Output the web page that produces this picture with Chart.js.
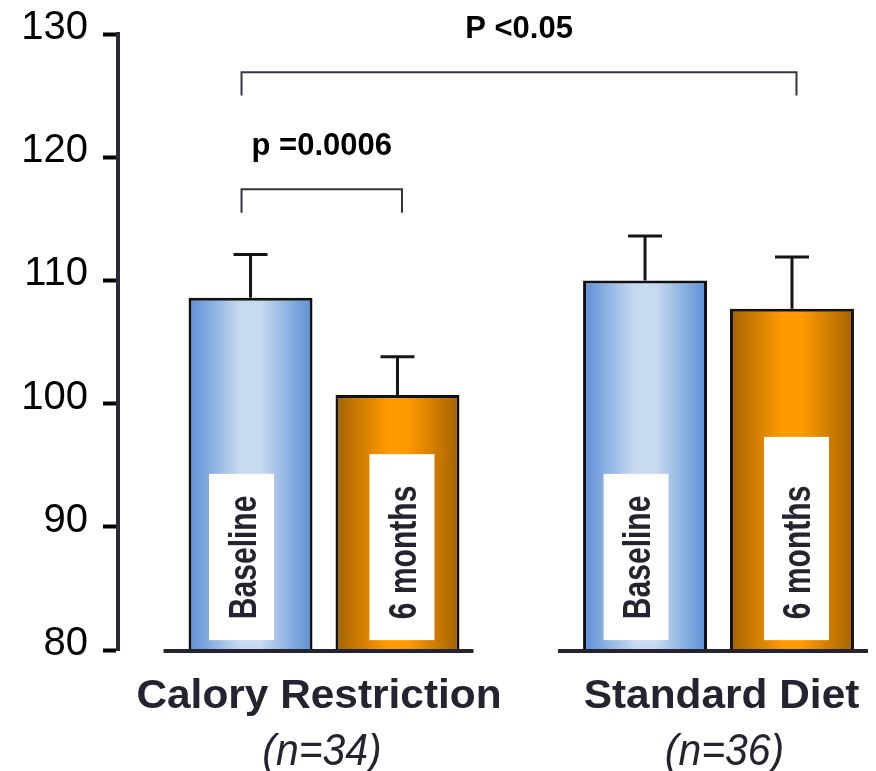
<!DOCTYPE html>
<html>
<head>
<meta charset="utf-8">
<script src="https://cdn.jsdelivr.net/npm/chart.js@4.4.1/dist/chart.umd.min.js"></script>
<style>
  html, body { margin: 0; padding: 0; background: #fff; }
  #wrap { width: 876px; height: 771px; }
</style>
</head>
<body>
<div id="wrap"><canvas id="dietChart"></canvas></div>
<script>
// values
const groups = ["Calory Restriction", "Standard Diet"];
const groupN = ["(n=34)", "(n=36)"];
const seriesNames = ["Baseline", "6 months"];
const baselineMeans = [108.6, 110.0];
const sixMonthMeans = [100.7, 107.7];
const baselineSem = [3.5, 3.6];
const sixMonthSem = [3.1, 4.2];
const yTicks = [80, 90, 100, 110, 120, 130];
const pLabels = ["p =0.0006", "P <0.05"];

const FONT = '"Liberation Sans", Arial, Helvetica, sans-serif';
const DARK = "#25232f";

// bar fill: horizontal shading, dark edge -> light centre -> dark edge
const barShades = [
  ["#5b8fd6", "#c8daf0"],
  ["#a46200", "#ff9a00"]
];

const barGradients = {
  id: "barGradients",
  beforeDatasetsDraw(chart) {
    const ctx = chart.ctx;
    chart.data.datasets.forEach((ds, di) => {
      chart.getDatasetMeta(di).data.forEach((bar) => {
        const half = bar.width / 2;
        const g = ctx.createLinearGradient(bar.x - half, 0, bar.x + half, 0);
        const [edge, mid] = barShades[di];
        g.addColorStop(0, edge);
        g.addColorStop(0.42, mid);
        g.addColorStop(0.58, mid);
        g.addColorStop(1, edge);
        bar.options = Object.assign({}, bar.options, { backgroundColor: g });
      });
    });
  }
};

function scaledText(ctx, text, x, y, font, sx) {
  ctx.save();
  ctx.translate(x, y);
  ctx.scale(sx, 1);
  ctx.font = font;
  ctx.fillText(text, 0, 0);
  ctx.restore();
}

const decorations = {
  id: "decorations",
  afterDatasetsDraw(chart, args, opts) {
    const { ctx } = chart;
    const yS = chart.scales.y;
    const sems = [baselineSem, sixMonthSem];
    const metas = [chart.getDatasetMeta(0), chart.getDatasetMeta(1)];
    ctx.save();

    // error bars, upper half only
    ctx.strokeStyle = "#151515";
    ctx.lineWidth = 3;
    chart.data.datasets.forEach((ds, di) => {
      metas[di].data.forEach((bar, gi) => {
        const top = yS.getPixelForValue(ds.data[gi].y + sems[di][gi]);
        ctx.beginPath();
        ctx.moveTo(bar.x, bar.y);
        ctx.lineTo(bar.x, top);
        ctx.moveTo(bar.x - 17, top);
        ctx.lineTo(bar.x + 17, top);
        ctx.stroke();
      });
    });

    // white label boxes with vertical text
    const boxBottom = yS.getPixelForValue(opts.boxBottom);
    metas.forEach((meta, di) => {
      meta.data.forEach((bar, gi) => {
        const cx = bar.x + opts.boxShift[di];
        const top = yS.getPixelForValue(opts.boxTop[di][gi]);
        ctx.fillStyle = "#fff";
        ctx.fillRect(cx - 32.5, top, 65, boxBottom - top);
        ctx.save();
        ctx.translate(cx + 14, boxBottom - 21);
        ctx.rotate(-Math.PI / 2);
        ctx.scale(0.77, 1);
        ctx.fillStyle = DARK;
        ctx.font = "bold 39px " + FONT;
        ctx.textAlign = "left";
        ctx.textBaseline = "alphabetic";
        ctx.fillText(seriesNames[di], 0, 0);
        ctx.restore();
      });
    });

    // base line under each group
    const baseY = yS.getPixelForValue(80) + 1;
    ctx.strokeStyle = DARK;
    ctx.lineWidth = 4;
    groups.forEach((g, gi) => {
      const b0 = metas[0].data[gi], b1 = metas[1].data[gi];
      ctx.beginPath();
      ctx.moveTo(b0.x - b0.width / 2 - 25, baseY);
      ctx.lineTo(b1.x + b1.width / 2 + 14, baseY);
      ctx.stroke();
    });

    // significance brackets
    ctx.strokeStyle = "#35333f";
    ctx.lineWidth = 2;
    ctx.fillStyle = "#000";
    ctx.textAlign = "center";
    ctx.textBaseline = "alphabetic";
    opts.brackets.forEach((br, i) => {
      const xa = metas[br.from[0]].data[br.from[1]].x + opts.boxShift[br.from[0]];
      const xb = metas[br.to[0]].data[br.to[1]].x + opts.boxShift[br.to[0]];
      const yTop = yS.getPixelForValue(br.level);
      const yLeg = yS.getPixelForValue(br.leg);
      ctx.beginPath();
      ctx.moveTo(xa, yLeg);
      ctx.lineTo(xa, yTop);
      ctx.lineTo(xb, yTop);
      ctx.lineTo(xb, yLeg);
      ctx.stroke();
      scaledText(ctx, pLabels[i], (xa + xb) / 2, yS.getPixelForValue(br.text), "bold 31px " + FONT, 1);
    });

    // group names under the axis
    ctx.fillStyle = DARK;
    groups.forEach((g, gi) => {
      const cx = (metas[0].data[gi].x + metas[1].data[gi].x) / 2 + opts.nameShift[gi];
      scaledText(ctx, g, cx - 3, baseY + 57, "bold 40px " + FONT, 1.06);
      scaledText(ctx, groupN[gi], cx, baseY + 114, "italic 44px " + FONT, 0.93);
    });

    ctx.restore();
  }
};

const barStyle = {
  borderColor: "#111",
  backgroundColor: "#ccc",
  borderWidth: 3,
  borderSkipped: false,
  categoryPercentage: 0.745,
  barPercentage: 0.8435
};

new Chart(document.getElementById("dietChart"), {
  type: "bar",
  data: {
    datasets: [
      Object.assign({ label: seriesNames[0], data: groups.map((g, i) => ({ x: i, y: baselineMeans[i] })) }, barStyle),
      Object.assign({ label: seriesNames[1], data: groups.map((g, i) => ({ x: i, y: sixMonthMeans[i] })) }, barStyle)
    ]
  },
  options: {
    responsive: true,
    maintainAspectRatio: false,
    animation: false,
    layout: { padding: { top: 34, bottom: 121, left: 0, right: 0 } },
    scales: {
      x: {
        type: "linear",
        min: -0.5222,
        max: 1.3992,
        offset: false,
        display: false,
        afterBuildTicks(scale) { scale.ticks = groups.map((g, i) => ({ value: i })); }
      },
      y: {
        min: 80,
        max: 130,
        afterFit(scale) {
          scale.width = 118;
          scale.paddingTop = 0;
          scale.paddingBottom = 0;
        },
        afterBuildTicks(scale) { scale.ticks = yTicks.map((v) => ({ value: v })); },
        border: { display: true, color: "#2b2a35", width: 4 },
        grid: { drawOnChartArea: false, tickLength: 15, tickWidth: 4, tickColor: "#000" },
        ticks: { padding: 15, color: "#000", labelOffset: -6, font: { size: 40, family: FONT } }
      }
    },
    plugins: {
      legend: { display: false },
      tooltip: { enabled: false },
      decorations: {
        boxShift: [-9, 4.5],
        boxTop: [[94.3, 94.3], [95.9, 97.3]],
        boxBottom: 80.8,
        nameShift: [-2, 6],
        brackets: [
          { from: [0, 0], to: [1, 0], level: 117.4, leg: 115.5, text: 120.2 },
          { from: [0, 0], to: [1, 1], level: 126.9, leg: 125.0, text: 129.7 }
        ]
      }
    }
  },
  plugins: [barGradients, decorations]
});
</script>
</body>
</html>
